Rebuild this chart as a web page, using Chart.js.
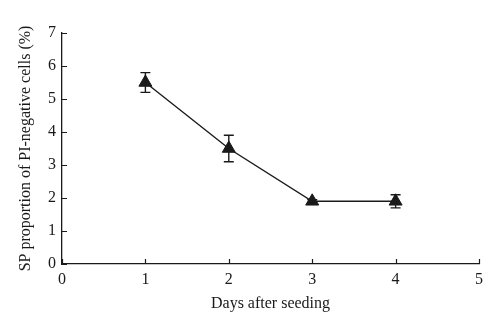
<!DOCTYPE html>
<html>
<head>
<meta charset="utf-8">
<script src="https://cdn.jsdelivr.net/npm/chart.js@4"></script>
<style>
  html, body { margin: 0; padding: 0; background: #fff; }
  #wrap { width: 500px; height: 330px; }
</style>
</head>
<body>
<div id="wrap"><canvas id="grafico"></canvas></div>
<script>
// dados
var dias = [1, 2, 3, 4];
var proporcao = [5.5, 3.5, 1.9, 1.9];
var erro = [0.3, 0.4, 0.05, 0.2];
var ticks_x = [0, 1, 2, 3, 4, 5];
var ticks_y = [0, 1, 2, 3, 4, 5, 6, 7];

var cor = '#1a1a1a';
var fonte = { family: '"Liberation Serif", "DejaVu Serif", serif', size: 16 };

var pontos = dias.map(function (d, i) { return { x: d, y: proporcao[i] }; });

// barras de erro e marcas dos eixos (para dentro)
const extras = {
    id: 'extras',
    afterDatasetsDraw: function (chart) {
        var ctx = chart.ctx;
        var sx = chart.scales.x, sy = chart.scales.y;
        ctx.save();
        ctx.strokeStyle = cor;
        ctx.lineWidth = 1.4;
        dias.forEach(function (d, i) {
            var px = sx.getPixelForValue(d);
            var top = sy.getPixelForValue(proporcao[i] + erro[i]);
            var bot = sy.getPixelForValue(proporcao[i] - erro[i]);
            ctx.beginPath();
            ctx.moveTo(px, top); ctx.lineTo(px, bot);
            ctx.moveTo(px - 5, top); ctx.lineTo(px + 5, top);
            ctx.moveTo(px - 5, bot); ctx.lineTo(px + 5, bot);
            ctx.stroke();
        });
        ctx.lineWidth = 1.2;
        var area = chart.chartArea;
        ctx.beginPath();
        ticks_x.forEach(function (v) {
            var px = Math.round(sx.getPixelForValue(v)) + 0.5;
            ctx.moveTo(px, area.bottom); ctx.lineTo(px, area.bottom - 5);
        });
        ticks_y.forEach(function (v) {
            var py = Math.round(sy.getPixelForValue(v)) + 0.5;
            ctx.moveTo(area.left, py); ctx.lineTo(area.left + 5, py);
        });
        ctx.stroke();
        ctx.restore();
    }
};

const grafico = document.getElementById('grafico');

var myChart = new Chart(grafico, {
    type: 'line',
    data: {
        datasets: [{
            data: pontos,
            borderColor: cor,
            backgroundColor: cor,
            borderWidth: 1.4,
            pointStyle: 'triangle',
            pointRadius: 7.5,
            pointBorderWidth: 1,
            tension: 0
        }]
    },
    options: {
        responsive: true,
        maintainAspectRatio: false,
        animation: false,
        layout: { padding: { left: 12, right: 21, top: 33, bottom: 13 } },
        plugins: { legend: { display: false }, tooltip: { enabled: false } },
        scales: {
            x: {
                type: 'linear',
                min: 0, max: 5,
                afterFit: function (s) { s.height = 53; },
                afterBuildTicks: function (s) { s.ticks = ticks_x.map(function (v) { return { value: v }; }); },
                grid: { display: false, drawTicks: false },
                border: { display: true, color: cor, width: 1.3 },
                ticks: { color: cor, font: fonte, padding: 6 },
                title: { display: true, text: 'Days after seeding', color: cor, font: fonte }
            },
            y: {
                min: 0, max: 7,
                afterFit: function (s) { s.width = 50; },
                afterBuildTicks: function (s) { s.ticks = ticks_y.map(function (v) { return { value: v }; }); },
                grid: { display: false, drawTicks: false },
                border: { display: true, color: cor, width: 1.3 },
                ticks: { color: cor, font: fonte, padding: 6 },
                title: { display: true, text: 'SP proportion of PI-negative cells (%)', color: cor, font: fonte }
            }
        }
    },
    plugins: [extras]
});
</script>
</body>
</html>
